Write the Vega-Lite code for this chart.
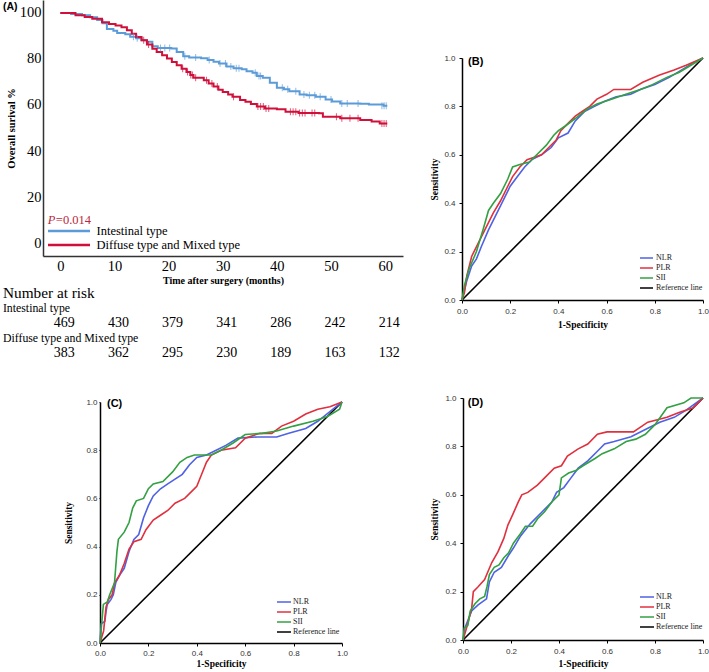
{
"$schema":"https://vega.github.io/schema/vega-lite/v6.json",
"width":709,"height":672,"autosize":{"type":"none"},"padding":0,"background":"white",
"config":{"view":{"stroke":null},"axis":{"grid":false,"labelFlush":false},"legend":{"padding":0,"rowPadding":0,"title":null,"orient":"none"}},
"datasets":{
"km":[
{"group":"Intestinal type","time":0,"surv":100},{"group":"Intestinal type","time":2,"surv":99.6},{"group":"Intestinal type","time":4,"surv":99},{"group":"Intestinal type","time":5.5,"surv":98.2},{"group":"Intestinal type","time":6.8,"surv":97},{"group":"Intestinal type","time":7.8,"surv":95.5},{"group":"Intestinal type","time":8.6,"surv":93},{"group":"Intestinal type","time":9.8,"surv":92.3},{"group":"Intestinal type","time":10.5,"surv":91.3},{"group":"Intestinal type","time":12,"surv":90.8},{"group":"Intestinal type","time":12.9,"surv":89.7},{"group":"Intestinal type","time":14,"surv":89},{"group":"Intestinal type","time":15,"surv":88.2},{"group":"Intestinal type","time":16,"surv":87.5},{"group":"Intestinal type","time":17,"surv":85.5},{"group":"Intestinal type","time":18,"surv":84.8},{"group":"Intestinal type","time":20.5,"surv":84.6},{"group":"Intestinal type","time":21.5,"surv":83},{"group":"Intestinal type","time":22.7,"surv":81.2},{"group":"Intestinal type","time":23.8,"surv":80.6},{"group":"Intestinal type","time":26,"surv":80.3},{"group":"Intestinal type","time":27.2,"surv":79.6},{"group":"Intestinal type","time":28.3,"surv":78.8},{"group":"Intestinal type","time":29.3,"surv":78},{"group":"Intestinal type","time":30.7,"surv":76.7},{"group":"Intestinal type","time":32,"surv":76},{"group":"Intestinal type","time":33.5,"surv":75.5},{"group":"Intestinal type","time":34.4,"surv":74.7},{"group":"Intestinal type","time":35.5,"surv":74},{"group":"Intestinal type","time":36.3,"surv":72.6},{"group":"Intestinal type","time":37.4,"surv":71.8},{"group":"Intestinal type","time":38.7,"surv":69.7},{"group":"Intestinal type","time":40,"surv":67.5},{"group":"Intestinal type","time":41.3,"surv":66.8},{"group":"Intestinal type","time":42.3,"surv":66},{"group":"Intestinal type","time":44.2,"surv":64.6},{"group":"Intestinal type","time":45.5,"surv":64.2},{"group":"Intestinal type","time":47.2,"surv":63.6},{"group":"Intestinal type","time":49,"surv":62.4},{"group":"Intestinal type","time":50.2,"surv":61.5},{"group":"Intestinal type","time":51.7,"surv":60.7},{"group":"Intestinal type","time":55.4,"surv":60.5},{"group":"Intestinal type","time":57,"surv":60.2},{"group":"Intestinal type","time":59.7,"surv":59.7},{"group":"Intestinal type","time":60.4,"surv":59.7},
{"group":"Diffuse type and Mixed type","time":0,"surv":100},{"group":"Diffuse type and Mixed type","time":2.8,"surv":99},{"group":"Diffuse type and Mixed type","time":4.5,"surv":98.3},{"group":"Diffuse type and Mixed type","time":5.9,"surv":97.5},{"group":"Diffuse type and Mixed type","time":7.7,"surv":96},{"group":"Diffuse type and Mixed type","time":9,"surv":95.2},{"group":"Diffuse type and Mixed type","time":10.2,"surv":94.6},{"group":"Diffuse type and Mixed type","time":11.3,"surv":93.8},{"group":"Diffuse type and Mixed type","time":12.3,"surv":92.5},{"group":"Diffuse type and Mixed type","time":13.2,"surv":91},{"group":"Diffuse type and Mixed type","time":14,"surv":89.6},{"group":"Diffuse type and Mixed type","time":15,"surv":88.2},{"group":"Diffuse type and Mixed type","time":16,"surv":86.3},{"group":"Diffuse type and Mixed type","time":17,"surv":84.5},{"group":"Diffuse type and Mixed type","time":17.8,"surv":83},{"group":"Diffuse type and Mixed type","time":18.8,"surv":81.6},{"group":"Diffuse type and Mixed type","time":19.7,"surv":80.2},{"group":"Diffuse type and Mixed type","time":20.6,"surv":78.7},{"group":"Diffuse type and Mixed type","time":21.5,"surv":77.3},{"group":"Diffuse type and Mixed type","time":22.4,"surv":75.8},{"group":"Diffuse type and Mixed type","time":23.3,"surv":74.4},{"group":"Diffuse type and Mixed type","time":24,"surv":73},{"group":"Diffuse type and Mixed type","time":24.6,"surv":71.8},{"group":"Diffuse type and Mixed type","time":26.5,"surv":70.8},{"group":"Diffuse type and Mixed type","time":27.4,"surv":69.4},{"group":"Diffuse type and Mixed type","time":28.3,"surv":68},{"group":"Diffuse type and Mixed type","time":29.2,"surv":66.6},{"group":"Diffuse type and Mixed type","time":30,"surv":65.6},{"group":"Diffuse type and Mixed type","time":31,"surv":64.6},{"group":"Diffuse type and Mixed type","time":31.8,"surv":63.6},{"group":"Diffuse type and Mixed type","time":33.2,"surv":62.2},{"group":"Diffuse type and Mixed type","time":34.2,"surv":61.4},{"group":"Diffuse type and Mixed type","time":35.2,"surv":60.4},{"group":"Diffuse type and Mixed type","time":36.3,"surv":59.3},{"group":"Diffuse type and Mixed type","time":37.8,"surv":58.5},{"group":"Diffuse type and Mixed type","time":40,"surv":58.2},{"group":"Diffuse type and Mixed type","time":41.6,"surv":57.1},{"group":"Diffuse type and Mixed type","time":44,"surv":56.5},{"group":"Diffuse type and Mixed type","time":47.8,"surv":56.4},{"group":"Diffuse type and Mixed type","time":48.5,"surv":54.9},{"group":"Diffuse type and Mixed type","time":51.7,"surv":54.2},{"group":"Diffuse type and Mixed type","time":55.4,"surv":53.5},{"group":"Diffuse type and Mixed type","time":57.5,"surv":52.8},{"group":"Diffuse type and Mixed type","time":59,"surv":52},{"group":"Diffuse type and Mixed type","time":60.4,"surv":52}
],
"censor":[
{"group":"Intestinal type","time":13.5,"surv":89.7},{"group":"Intestinal type","time":14.2,"surv":89},{"group":"Intestinal type","time":18.5,"surv":84.8},{"group":"Intestinal type","time":19.3,"surv":84.8},{"group":"Intestinal type","time":20.2,"surv":84.8},{"group":"Intestinal type","time":23,"surv":81.2},{"group":"Intestinal type","time":25,"surv":80.6},{"group":"Intestinal type","time":27.5,"surv":79.6},{"group":"Intestinal type","time":29.5,"surv":78},{"group":"Intestinal type","time":30.5,"surv":78},{"group":"Intestinal type","time":31.5,"surv":76.7},{"group":"Intestinal type","time":32.5,"surv":76},{"group":"Intestinal type","time":33,"surv":76},{"group":"Intestinal type","time":36,"surv":74},{"group":"Intestinal type","time":36.7,"surv":72.6},{"group":"Intestinal type","time":37,"surv":72.6},{"group":"Intestinal type","time":41,"surv":67.5},{"group":"Intestinal type","time":42,"surv":66.8},{"group":"Intestinal type","time":43.5,"surv":66},{"group":"Intestinal type","time":45,"surv":64.6},{"group":"Intestinal type","time":46,"surv":64.2},{"group":"Intestinal type","time":47,"surv":64.2},{"group":"Intestinal type","time":48,"surv":63.6},{"group":"Intestinal type","time":50,"surv":62.4},{"group":"Intestinal type","time":52,"surv":60.7},{"group":"Intestinal type","time":53,"surv":60.7},{"group":"Intestinal type","time":55,"surv":60.7},{"group":"Intestinal type","time":59.4,"surv":59.7},{"group":"Intestinal type","time":59.8,"surv":59.7},{"group":"Intestinal type","time":60.2,"surv":59.7},
{"group":"Diffuse type and Mixed type","time":15.4,"surv":88.2},{"group":"Diffuse type and Mixed type","time":16.3,"surv":86.3},{"group":"Diffuse type and Mixed type","time":22.6,"surv":75.8},{"group":"Diffuse type and Mixed type","time":23.5,"surv":74.4},{"group":"Diffuse type and Mixed type","time":24.1,"surv":73},{"group":"Diffuse type and Mixed type","time":24.4,"surv":73},{"group":"Diffuse type and Mixed type","time":25,"surv":71.8},{"group":"Diffuse type and Mixed type","time":27,"surv":70.8},{"group":"Diffuse type and Mixed type","time":28,"surv":69.4},{"group":"Diffuse type and Mixed type","time":29,"surv":68},{"group":"Diffuse type and Mixed type","time":32,"surv":63.6},{"group":"Diffuse type and Mixed type","time":36.5,"surv":59.3},{"group":"Diffuse type and Mixed type","time":37,"surv":59.3},{"group":"Diffuse type and Mixed type","time":37.5,"surv":59.3},{"group":"Diffuse type and Mixed type","time":38,"surv":58.5},{"group":"Diffuse type and Mixed type","time":38.5,"surv":58.5},{"group":"Diffuse type and Mixed type","time":42.5,"surv":57.1},{"group":"Diffuse type and Mixed type","time":43,"surv":57.1},{"group":"Diffuse type and Mixed type","time":43.5,"surv":57.1},{"group":"Diffuse type and Mixed type","time":44.2,"surv":56.5},{"group":"Diffuse type and Mixed type","time":44.7,"surv":56.5},{"group":"Diffuse type and Mixed type","time":45.2,"surv":56.5},{"group":"Diffuse type and Mixed type","time":46.5,"surv":56.5},{"group":"Diffuse type and Mixed type","time":47,"surv":56.5},{"group":"Diffuse type and Mixed type","time":51,"surv":54.9},{"group":"Diffuse type and Mixed type","time":52,"surv":54.2},{"group":"Diffuse type and Mixed type","time":53.5,"surv":54.2},{"group":"Diffuse type and Mixed type","time":55,"surv":54.2},{"group":"Diffuse type and Mixed type","time":59.4,"surv":52},{"group":"Diffuse type and Mixed type","time":59.8,"surv":52},{"group":"Diffuse type and Mixed type","time":60.2,"surv":52}
],
"riskHead":[{"line":"Number at risk","label":"Number at risk"}],
"riskLabels":[{"line":"Intestinal type","label":"Intestinal type"},{"line":"Diffuse type and Mixed type","label":"Diffuse type and Mixed type"}],
"riskN":[
{"line":"Intestinal type (at risk)","time":0,"n":469},{"line":"Intestinal type (at risk)","time":10,"n":430},{"line":"Intestinal type (at risk)","time":20,"n":379},{"line":"Intestinal type (at risk)","time":30,"n":341},{"line":"Intestinal type (at risk)","time":40,"n":286},{"line":"Intestinal type (at risk)","time":50,"n":242},{"line":"Intestinal type (at risk)","time":60,"n":214},
{"line":"Diffuse type and Mixed type (at risk)","time":0,"n":383},{"line":"Diffuse type and Mixed type (at risk)","time":10,"n":362},{"line":"Diffuse type and Mixed type (at risk)","time":20,"n":295},{"line":"Diffuse type and Mixed type (at risk)","time":30,"n":230},{"line":"Diffuse type and Mixed type (at risk)","time":40,"n":189},{"line":"Diffuse type and Mixed type (at risk)","time":50,"n":163},{"line":"Diffuse type and Mixed type (at risk)","time":60,"n":132}
],
"rocB":[
{"m":"Reference line","fpr":0,"tpr":0},{"m":"Reference line","fpr":1,"tpr":1},
{"m":"NLR","fpr":0,"tpr":0},{"m":"NLR","fpr":0.02,"tpr":0.08},{"m":"NLR","fpr":0.04,"tpr":0.14},{"m":"NLR","fpr":0.06,"tpr":0.17},{"m":"NLR","fpr":0.08,"tpr":0.22},{"m":"NLR","fpr":0.11,"tpr":0.29},{"m":"NLR","fpr":0.14,"tpr":0.35},{"m":"NLR","fpr":0.17,"tpr":0.41},{"m":"NLR","fpr":0.2,"tpr":0.47},{"m":"NLR","fpr":0.23,"tpr":0.51},{"m":"NLR","fpr":0.26,"tpr":0.55},{"m":"NLR","fpr":0.29,"tpr":0.58},{"m":"NLR","fpr":0.33,"tpr":0.6},{"m":"NLR","fpr":0.37,"tpr":0.63},{"m":"NLR","fpr":0.4,"tpr":0.67},{"m":"NLR","fpr":0.44,"tpr":0.69},{"m":"NLR","fpr":0.47,"tpr":0.74},{"m":"NLR","fpr":0.51,"tpr":0.78},{"m":"NLR","fpr":0.55,"tpr":0.8},{"m":"NLR","fpr":0.59,"tpr":0.82},{"m":"NLR","fpr":0.64,"tpr":0.84},{"m":"NLR","fpr":0.7,"tpr":0.85},{"m":"NLR","fpr":0.74,"tpr":0.87},{"m":"NLR","fpr":0.8,"tpr":0.89},{"m":"NLR","fpr":0.86,"tpr":0.92},{"m":"NLR","fpr":0.91,"tpr":0.95},{"m":"NLR","fpr":0.96,"tpr":0.98},{"m":"NLR","fpr":1,"tpr":1},
{"m":"PLR","fpr":0,"tpr":0},{"m":"PLR","fpr":0.01,"tpr":0.03},{"m":"PLR","fpr":0.02,"tpr":0.1},{"m":"PLR","fpr":0.04,"tpr":0.18},{"m":"PLR","fpr":0.07,"tpr":0.24},{"m":"PLR","fpr":0.1,"tpr":0.3},{"m":"PLR","fpr":0.13,"tpr":0.36},{"m":"PLR","fpr":0.16,"tpr":0.41},{"m":"PLR","fpr":0.19,"tpr":0.47},{"m":"PLR","fpr":0.21,"tpr":0.51},{"m":"PLR","fpr":0.24,"tpr":0.55},{"m":"PLR","fpr":0.27,"tpr":0.58},{"m":"PLR","fpr":0.3,"tpr":0.59},{"m":"PLR","fpr":0.33,"tpr":0.6},{"m":"PLR","fpr":0.36,"tpr":0.63},{"m":"PLR","fpr":0.39,"tpr":0.66},{"m":"PLR","fpr":0.41,"tpr":0.7},{"m":"PLR","fpr":0.44,"tpr":0.73},{"m":"PLR","fpr":0.47,"tpr":0.76},{"m":"PLR","fpr":0.5,"tpr":0.78},{"m":"PLR","fpr":0.53,"tpr":0.8},{"m":"PLR","fpr":0.56,"tpr":0.83},{"m":"PLR","fpr":0.6,"tpr":0.85},{"m":"PLR","fpr":0.63,"tpr":0.87},{"m":"PLR","fpr":0.7,"tpr":0.87},{"m":"PLR","fpr":0.75,"tpr":0.9},{"m":"PLR","fpr":0.82,"tpr":0.93},{"m":"PLR","fpr":0.88,"tpr":0.95},{"m":"PLR","fpr":0.93,"tpr":0.97},{"m":"PLR","fpr":1,"tpr":1},
{"m":"SII","fpr":0,"tpr":0},{"m":"SII","fpr":0.01,"tpr":0.06},{"m":"SII","fpr":0.03,"tpr":0.13},{"m":"SII","fpr":0.06,"tpr":0.2},{"m":"SII","fpr":0.09,"tpr":0.3},{"m":"SII","fpr":0.11,"tpr":0.37},{"m":"SII","fpr":0.13,"tpr":0.4},{"m":"SII","fpr":0.16,"tpr":0.44},{"m":"SII","fpr":0.19,"tpr":0.5},{"m":"SII","fpr":0.21,"tpr":0.55},{"m":"SII","fpr":0.24,"tpr":0.56},{"m":"SII","fpr":0.28,"tpr":0.57},{"m":"SII","fpr":0.31,"tpr":0.6},{"m":"SII","fpr":0.35,"tpr":0.64},{"m":"SII","fpr":0.38,"tpr":0.68},{"m":"SII","fpr":0.4,"tpr":0.7},{"m":"SII","fpr":0.43,"tpr":0.72},{"m":"SII","fpr":0.47,"tpr":0.75},{"m":"SII","fpr":0.52,"tpr":0.79},{"m":"SII","fpr":0.56,"tpr":0.81},{"m":"SII","fpr":0.62,"tpr":0.83},{"m":"SII","fpr":0.68,"tpr":0.85},{"m":"SII","fpr":0.74,"tpr":0.87},{"m":"SII","fpr":0.79,"tpr":0.89},{"m":"SII","fpr":0.85,"tpr":0.92},{"m":"SII","fpr":0.9,"tpr":0.94},{"m":"SII","fpr":0.95,"tpr":0.97},{"m":"SII","fpr":1,"tpr":1}
],
"rocC":[
{"m":"Reference line","fpr":0,"tpr":0},{"m":"Reference line","fpr":1,"tpr":1},
{"m":"NLR","fpr":0,"tpr":0},{"m":"NLR","fpr":0.005,"tpr":0.08},{"m":"NLR","fpr":0.02,"tpr":0.09},{"m":"NLR","fpr":0.025,"tpr":0.13},{"m":"NLR","fpr":0.03,"tpr":0.16},{"m":"NLR","fpr":0.045,"tpr":0.18},{"m":"NLR","fpr":0.055,"tpr":0.2},{"m":"NLR","fpr":0.065,"tpr":0.25},{"m":"NLR","fpr":0.08,"tpr":0.28},{"m":"NLR","fpr":0.1,"tpr":0.31},{"m":"NLR","fpr":0.12,"tpr":0.38},{"m":"NLR","fpr":0.14,"tpr":0.43},{"m":"NLR","fpr":0.16,"tpr":0.45},{"m":"NLR","fpr":0.18,"tpr":0.52},{"m":"NLR","fpr":0.2,"tpr":0.57},{"m":"NLR","fpr":0.22,"tpr":0.61},{"m":"NLR","fpr":0.25,"tpr":0.64},{"m":"NLR","fpr":0.28,"tpr":0.66},{"m":"NLR","fpr":0.31,"tpr":0.68},{"m":"NLR","fpr":0.34,"tpr":0.7},{"m":"NLR","fpr":0.37,"tpr":0.74},{"m":"NLR","fpr":0.4,"tpr":0.77},{"m":"NLR","fpr":0.44,"tpr":0.78},{"m":"NLR","fpr":0.48,"tpr":0.8},{"m":"NLR","fpr":0.52,"tpr":0.82},{"m":"NLR","fpr":0.57,"tpr":0.85},{"m":"NLR","fpr":0.65,"tpr":0.855},{"m":"NLR","fpr":0.73,"tpr":0.855},{"m":"NLR","fpr":0.78,"tpr":0.87},{"m":"NLR","fpr":0.85,"tpr":0.89},{"m":"NLR","fpr":0.9,"tpr":0.92},{"m":"NLR","fpr":0.95,"tpr":0.96},{"m":"NLR","fpr":1,"tpr":1},
{"m":"PLR","fpr":0,"tpr":0},{"m":"PLR","fpr":0.015,"tpr":0.05},{"m":"PLR","fpr":0.025,"tpr":0.15},{"m":"PLR","fpr":0.035,"tpr":0.18},{"m":"PLR","fpr":0.05,"tpr":0.2},{"m":"PLR","fpr":0.06,"tpr":0.25},{"m":"PLR","fpr":0.08,"tpr":0.28},{"m":"PLR","fpr":0.1,"tpr":0.33},{"m":"PLR","fpr":0.12,"tpr":0.39},{"m":"PLR","fpr":0.14,"tpr":0.42},{"m":"PLR","fpr":0.17,"tpr":0.43},{"m":"PLR","fpr":0.19,"tpr":0.47},{"m":"PLR","fpr":0.22,"tpr":0.51},{"m":"PLR","fpr":0.25,"tpr":0.53},{"m":"PLR","fpr":0.28,"tpr":0.55},{"m":"PLR","fpr":0.31,"tpr":0.58},{"m":"PLR","fpr":0.35,"tpr":0.6},{"m":"PLR","fpr":0.38,"tpr":0.63},{"m":"PLR","fpr":0.4,"tpr":0.65},{"m":"PLR","fpr":0.42,"tpr":0.7},{"m":"PLR","fpr":0.44,"tpr":0.75},{"m":"PLR","fpr":0.46,"tpr":0.78},{"m":"PLR","fpr":0.5,"tpr":0.8},{"m":"PLR","fpr":0.56,"tpr":0.81},{"m":"PLR","fpr":0.6,"tpr":0.85},{"m":"PLR","fpr":0.66,"tpr":0.87},{"m":"PLR","fpr":0.71,"tpr":0.87},{"m":"PLR","fpr":0.75,"tpr":0.9},{"m":"PLR","fpr":0.8,"tpr":0.92},{"m":"PLR","fpr":0.85,"tpr":0.95},{"m":"PLR","fpr":0.9,"tpr":0.97},{"m":"PLR","fpr":0.95,"tpr":0.98},{"m":"PLR","fpr":1,"tpr":1},
{"m":"SII","fpr":0,"tpr":0},{"m":"SII","fpr":0.014,"tpr":0.16},{"m":"SII","fpr":0.03,"tpr":0.17},{"m":"SII","fpr":0.04,"tpr":0.2},{"m":"SII","fpr":0.06,"tpr":0.25},{"m":"SII","fpr":0.07,"tpr":0.38},{"m":"SII","fpr":0.076,"tpr":0.43},{"m":"SII","fpr":0.1,"tpr":0.46},{"m":"SII","fpr":0.12,"tpr":0.5},{"m":"SII","fpr":0.135,"tpr":0.56},{"m":"SII","fpr":0.15,"tpr":0.59},{"m":"SII","fpr":0.18,"tpr":0.6},{"m":"SII","fpr":0.2,"tpr":0.64},{"m":"SII","fpr":0.22,"tpr":0.66},{"m":"SII","fpr":0.26,"tpr":0.67},{"m":"SII","fpr":0.3,"tpr":0.71},{"m":"SII","fpr":0.33,"tpr":0.75},{"m":"SII","fpr":0.36,"tpr":0.77},{"m":"SII","fpr":0.39,"tpr":0.78},{"m":"SII","fpr":0.46,"tpr":0.78},{"m":"SII","fpr":0.5,"tpr":0.8},{"m":"SII","fpr":0.55,"tpr":0.83},{"m":"SII","fpr":0.6,"tpr":0.865},{"m":"SII","fpr":0.67,"tpr":0.87},{"m":"SII","fpr":0.73,"tpr":0.88},{"m":"SII","fpr":0.8,"tpr":0.9},{"m":"SII","fpr":0.88,"tpr":0.92},{"m":"SII","fpr":0.94,"tpr":0.94},{"m":"SII","fpr":0.99,"tpr":0.97},{"m":"SII","fpr":1,"tpr":1}
],
"rocD":[
{"m":"Reference line","fpr":0,"tpr":0},{"m":"Reference line","fpr":1,"tpr":1},
{"m":"NLR","fpr":0,"tpr":0},{"m":"NLR","fpr":0.008,"tpr":0.05},{"m":"NLR","fpr":0.02,"tpr":0.08},{"m":"NLR","fpr":0.036,"tpr":0.12},{"m":"NLR","fpr":0.063,"tpr":0.145},{"m":"NLR","fpr":0.098,"tpr":0.17},{"m":"NLR","fpr":0.11,"tpr":0.24},{"m":"NLR","fpr":0.13,"tpr":0.28},{"m":"NLR","fpr":0.16,"tpr":0.3},{"m":"NLR","fpr":0.19,"tpr":0.35},{"m":"NLR","fpr":0.21,"tpr":0.38},{"m":"NLR","fpr":0.24,"tpr":0.43},{"m":"NLR","fpr":0.28,"tpr":0.48},{"m":"NLR","fpr":0.33,"tpr":0.53},{"m":"NLR","fpr":0.37,"tpr":0.57},{"m":"NLR","fpr":0.39,"tpr":0.61},{"m":"NLR","fpr":0.42,"tpr":0.63},{"m":"NLR","fpr":0.45,"tpr":0.67},{"m":"NLR","fpr":0.48,"tpr":0.71},{"m":"NLR","fpr":0.52,"tpr":0.74},{"m":"NLR","fpr":0.56,"tpr":0.78},{"m":"NLR","fpr":0.59,"tpr":0.81},{"m":"NLR","fpr":0.63,"tpr":0.82},{"m":"NLR","fpr":0.7,"tpr":0.84},{"m":"NLR","fpr":0.77,"tpr":0.875},{"m":"NLR","fpr":0.82,"tpr":0.9},{"m":"NLR","fpr":0.88,"tpr":0.92},{"m":"NLR","fpr":0.93,"tpr":0.95},{"m":"NLR","fpr":1,"tpr":1},
{"m":"PLR","fpr":0,"tpr":0},{"m":"PLR","fpr":0.015,"tpr":0.05},{"m":"PLR","fpr":0.036,"tpr":0.13},{"m":"PLR","fpr":0.043,"tpr":0.2},{"m":"PLR","fpr":0.063,"tpr":0.22},{"m":"PLR","fpr":0.09,"tpr":0.25},{"m":"PLR","fpr":0.12,"tpr":0.32},{"m":"PLR","fpr":0.146,"tpr":0.365},{"m":"PLR","fpr":0.17,"tpr":0.42},{"m":"PLR","fpr":0.187,"tpr":0.475},{"m":"PLR","fpr":0.208,"tpr":0.52},{"m":"PLR","fpr":0.23,"tpr":0.57},{"m":"PLR","fpr":0.245,"tpr":0.6},{"m":"PLR","fpr":0.27,"tpr":0.61},{"m":"PLR","fpr":0.31,"tpr":0.64},{"m":"PLR","fpr":0.34,"tpr":0.67},{"m":"PLR","fpr":0.38,"tpr":0.71},{"m":"PLR","fpr":0.41,"tpr":0.72},{"m":"PLR","fpr":0.435,"tpr":0.76},{"m":"PLR","fpr":0.48,"tpr":0.79},{"m":"PLR","fpr":0.52,"tpr":0.81},{"m":"PLR","fpr":0.56,"tpr":0.85},{"m":"PLR","fpr":0.6,"tpr":0.86},{"m":"PLR","fpr":0.71,"tpr":0.86},{"m":"PLR","fpr":0.77,"tpr":0.9},{"m":"PLR","fpr":0.85,"tpr":0.92},{"m":"PLR","fpr":0.9,"tpr":0.94},{"m":"PLR","fpr":0.96,"tpr":0.96},{"m":"PLR","fpr":1,"tpr":1},
{"m":"SII","fpr":0,"tpr":0},{"m":"SII","fpr":0.005,"tpr":0.05},{"m":"SII","fpr":0.02,"tpr":0.06},{"m":"SII","fpr":0.03,"tpr":0.12},{"m":"SII","fpr":0.05,"tpr":0.15},{"m":"SII","fpr":0.07,"tpr":0.17},{"m":"SII","fpr":0.09,"tpr":0.18},{"m":"SII","fpr":0.1,"tpr":0.22},{"m":"SII","fpr":0.11,"tpr":0.27},{"m":"SII","fpr":0.13,"tpr":0.3},{"m":"SII","fpr":0.15,"tpr":0.31},{"m":"SII","fpr":0.17,"tpr":0.34},{"m":"SII","fpr":0.19,"tpr":0.36},{"m":"SII","fpr":0.21,"tpr":0.4},{"m":"SII","fpr":0.24,"tpr":0.44},{"m":"SII","fpr":0.26,"tpr":0.47},{"m":"SII","fpr":0.29,"tpr":0.47},{"m":"SII","fpr":0.31,"tpr":0.5},{"m":"SII","fpr":0.34,"tpr":0.53},{"m":"SII","fpr":0.37,"tpr":0.57},{"m":"SII","fpr":0.4,"tpr":0.6},{"m":"SII","fpr":0.41,"tpr":0.67},{"m":"SII","fpr":0.44,"tpr":0.69},{"m":"SII","fpr":0.47,"tpr":0.7},{"m":"SII","fpr":0.5,"tpr":0.72},{"m":"SII","fpr":0.55,"tpr":0.75},{"m":"SII","fpr":0.58,"tpr":0.77},{"m":"SII","fpr":0.63,"tpr":0.79},{"m":"SII","fpr":0.68,"tpr":0.82},{"m":"SII","fpr":0.72,"tpr":0.83},{"m":"SII","fpr":0.76,"tpr":0.85},{"m":"SII","fpr":0.8,"tpr":0.89},{"m":"SII","fpr":0.85,"tpr":0.96},{"m":"SII","fpr":0.92,"tpr":0.98},{"m":"SII","fpr":0.95,"tpr":1},{"m":"SII","fpr":1,"tpr":1}
]
},
"layer":[
{"data":{"name":"km"},"mark":{"type":"line","interpolate":"step-after","strokeWidth":2},
 "encoding":{
  "x":{"field":"time","type":"quantitative","scale":{"domain":[-3.2,63.3],"range":[43,403],"nice":false,"zero":false},
       "axis":{"orient":"bottom","offset":-416,"values":[0,10,20,30,40,50,60],"title":"Time after surgery (months)","titleFont":"Liberation Serif","titleFontSize":10,"titleFontWeight":"bold","titleColor":"#000","titlePadding":3,"labelFont":"Liberation Serif","labelFontSize":14.5,"labelColor":"#000","labelPadding":3,"ticks":false,"domainColor":"#333","domainWidth":1.5}},
  "y":{"field":"surv","type":"quantitative","scale":{"domain":[-5.65,105.65],"range":[256,0],"nice":false,"zero":false},
       "axis":{"orient":"left","offset":-43,"values":[0,20,40,60,80,100],"title":"Overall surival %","titleFont":"Liberation Serif","titleFontSize":10.5,"titleFontWeight":"bold","titleColor":"#000","titlePadding":3,"labelFont":"Liberation Serif","labelFontSize":14.5,"labelColor":"#000","labelPadding":2,"ticks":false,"domainColor":"#333","domainWidth":1.5}},
  "color":{"field":"group","type":"nominal","scale":{"domain":["Intestinal type","Diffuse type and Mixed type"],"range":["#5b9bd8","#d0103a"]},
       "legend":{"orient":"none","legendX":46.5,"legendY":224,"symbolType":"stroke","symbolSize":1764,"symbolStrokeWidth":2.5,"clipHeight":14,"labelFont":"Liberation Serif","labelFontSize":12.5,"labelColor":"#000","labelOffset":5,"labelLimit":300}}
 }},
{"data":{"name":"censor"},"mark":{"type":"tick","orient":"vertical","size":7,"thickness":1},
 "encoding":{
  "x":{"field":"time","type":"quantitative","scale":{"domain":[-3.2,63.3],"range":[43,403],"nice":false,"zero":false},"axis":null},
  "y":{"field":"surv","type":"quantitative","scale":{"domain":[-5.65,105.65],"range":[256,0],"nice":false,"zero":false},"axis":null},
  "color":{"field":"group","type":"nominal","scale":{"domain":["Intestinal type","Diffuse type and Mixed type"],"range":["#5b9bd8","#d0103a"]},"legend":null}}},
{"data":{"values":[{"p":"P","v":"=0.014"}]},"mark":{"type":"text","align":"left","baseline":"middle","font":"Liberation Serif","fontSize":12.5,"fontStyle":"italic","color":"#b8283c"},
 "encoding":{
  "x":{"datum":-2.3,"type":"quantitative","scale":{"domain":[-3.2,63.3],"range":[43,403],"nice":false,"zero":false},"axis":null},
  "y":{"datum":10,"type":"quantitative","scale":{"domain":[-5.65,105.65],"range":[256,0],"nice":false,"zero":false},"axis":null},
  "text":{"field":"p"}}},
{"data":{"values":[{"p":"P","v":"=0.014"}]},"mark":{"type":"text","align":"left","baseline":"middle","font":"Liberation Serif","fontSize":12.5,"dx":8,"color":"#b8283c"},
 "encoding":{
  "x":{"datum":-2.3,"type":"quantitative","scale":{"domain":[-3.2,63.3],"range":[43,403],"nice":false,"zero":false},"axis":null},
  "y":{"datum":10,"type":"quantitative","scale":{"domain":[-5.65,105.65],"range":[256,0],"nice":false,"zero":false},"axis":null},
  "text":{"field":"v"}}},
{"data":{"values":[{"label":"(A)"}]},"mark":{"type":"text","align":"left","baseline":"middle","font":"Liberation Sans","fontSize":10.5,"fontWeight":"bold","color":"#000"},
 "encoding":{
  "x":{"datum":-10.6,"type":"quantitative","scale":{"domain":[-3.2,63.3],"range":[43,403],"nice":false,"zero":false},"axis":null},
  "y":{"datum":102.5,"type":"quantitative","scale":{"domain":[-5.65,105.65],"range":[256,0],"nice":false,"zero":false},"axis":null},
  "text":{"field":"label"}}},
{"data":{"name":"riskHead"},"mark":{"type":"text","align":"left","baseline":"middle","font":"Liberation Serif","fontSize":15.3,"color":"#000"},
 "encoding":{
  "x":{"datum":-10.6,"type":"quantitative","scale":{"domain":[-3.2,63.3],"range":[43,403],"nice":false,"zero":false},"axis":null},
  "y":{"field":"line","type":"nominal","scale":{"type":"point","domain":["Number at risk","Intestinal type","Intestinal type (at risk)","Diffuse type and Mixed type","Diffuse type and Mixed type (at risk)"],"range":[293,353],"padding":0},"axis":null},
  "text":{"field":"label"}}},
{"data":{"name":"riskLabels"},"mark":{"type":"text","align":"left","baseline":"middle","font":"Liberation Serif","fontSize":11.8,"color":"#000"},
 "encoding":{
  "x":{"datum":-10.6,"type":"quantitative","scale":{"domain":[-3.2,63.3],"range":[43,403],"nice":false,"zero":false},"axis":null},
  "y":{"field":"line","type":"nominal","scale":{"type":"point","domain":["Number at risk","Intestinal type","Intestinal type (at risk)","Diffuse type and Mixed type","Diffuse type and Mixed type (at risk)"],"range":[293,353],"padding":0},"axis":null},
  "text":{"field":"label"}}},
{"data":{"name":"riskN"},"mark":{"type":"text","align":"center","baseline":"middle","dx":4,"font":"Liberation Serif","fontSize":14,"color":"#000"},
 "encoding":{
  "x":{"field":"time","type":"quantitative","scale":{"domain":[-3.2,63.3],"range":[43,403],"nice":false,"zero":false},"axis":null},
  "y":{"field":"line","type":"nominal","scale":{"type":"point","domain":["Number at risk","Intestinal type","Intestinal type (at risk)","Diffuse type and Mixed type","Diffuse type and Mixed type (at risk)"],"range":[293,353],"padding":0},"axis":null},
  "text":{"field":"n"}}},
{"data":{"name":"rocB"},"mark":{"type":"line","strokeWidth":1.6},
 "encoding":{
  "x":{"field":"fpr","type":"quantitative","scale":{"domain":[0,1],"range":[462,703],"nice":false,"zero":false},
    "axis":{"orient":"bottom","offset":-372,"values":[0,0.2,0.4,0.6,0.8,1],"format":".1f","title":"1-Specificity","titleFont":"Liberation Serif","titleFontSize":9.5,"titleFontWeight":"bold","titleColor":"#000","titlePadding":4,"labelFont":"Liberation Sans","labelFontSize":8,"labelColor":"#333","labelPadding":4,"tickSize":3,"tickColor":"#000","domainColor":"#000","domainWidth":1.5}},
  "y":{"field":"tpr","type":"quantitative","scale":{"domain":[0,1],"range":[300,58],"nice":false,"zero":false},
    "axis":{"orient":"left","offset":-462,"values":[0,0.2,0.4,0.6,0.8,1],"format":".1f","title":"Sensitivity","titleFont":"Liberation Serif","titleFontSize":9.5,"titleFontWeight":"bold","titleColor":"#000","titlePadding":4,"labelFont":"Liberation Sans","labelFontSize":8,"labelColor":"#333","labelPadding":4,"tickSize":3,"tickColor":"#000","domainColor":"#000","domainWidth":1.5}},
  "color":{"field":"m","type":"nominal","scale":{"domain":["NLR","PLR","SII","Reference line"],"range":["#4f62e3","#e0303e","#33a043","#000000"]},
    "legend":{"orient":"none","legendX":639,"legendY":253,"symbolType":"stroke","symbolSize":169,"symbolStrokeWidth":1.5,"clipHeight":10,"labelFont":"Liberation Serif","labelFontSize":8,"labelColor":"#222","labelOffset":2}}
 }},
{"data":{"values":[{"label":"(B)"}]},"mark":{"type":"text","align":"left","baseline":"middle","font":"Liberation Sans","fontSize":11,"fontWeight":"bold","color":"#000"},
 "encoding":{
  "x":{"datum":0.025,"type":"quantitative","scale":{"domain":[0,1],"range":[462,703],"nice":false,"zero":false},"axis":null},
  "y":{"datum":0.985,"type":"quantitative","scale":{"domain":[0,1],"range":[300,58],"nice":false,"zero":false},"axis":null},
  "text":{"field":"label"}}},
{"data":{"name":"rocC"},"mark":{"type":"line","strokeWidth":1.6},
 "encoding":{
  "x":{"field":"fpr","type":"quantitative","scale":{"domain":[0,1],"range":[100,342],"nice":false,"zero":false},
    "axis":{"orient":"bottom","offset":-29,"values":[0,0.2,0.4,0.6,0.8,1],"format":".1f","title":"1-Specificity","titleFont":"Liberation Serif","titleFontSize":9.5,"titleFontWeight":"bold","titleColor":"#000","titlePadding":1,"labelFont":"Liberation Sans","labelFontSize":8,"labelColor":"#333","labelPadding":3,"tickSize":3,"tickColor":"#000","domainColor":"#000","domainWidth":1.5}},
  "y":{"field":"tpr","type":"quantitative","scale":{"domain":[0,1],"range":[643,402],"nice":false,"zero":false},
    "axis":{"orient":"left","offset":-100,"values":[0,0.2,0.4,0.6,0.8,1],"format":".1f","title":"Sensitivity","titleFont":"Liberation Serif","titleFontSize":9.5,"titleFontWeight":"bold","titleColor":"#000","titlePadding":12,"labelFont":"Liberation Sans","labelFontSize":8,"labelColor":"#333","labelPadding":2,"tickSize":1,"tickColor":"#000","domainColor":"#000","domainWidth":1.5}},
  "color":{"field":"m","type":"nominal","scale":{"domain":["NLR","PLR","SII","Reference line"],"range":["#4f62e3","#e0303e","#33a043","#000000"]},
    "legend":{"orient":"none","legendX":276,"legendY":597,"symbolType":"stroke","symbolSize":196,"symbolStrokeWidth":1.5,"clipHeight":9.8,"labelFont":"Liberation Serif","labelFontSize":8,"labelColor":"#222","labelOffset":1}}
 }},
{"data":{"values":[{"label":"(C)"}]},"mark":{"type":"text","align":"left","baseline":"middle","font":"Liberation Sans","fontSize":11,"fontWeight":"bold","color":"#000"},
 "encoding":{
  "x":{"datum":0.029,"type":"quantitative","scale":{"domain":[0,1],"range":[100,342],"nice":false,"zero":false},"axis":null},
  "y":{"datum":0.99,"type":"quantitative","scale":{"domain":[0,1],"range":[643,402],"nice":false,"zero":false},"axis":null},
  "text":{"field":"label"}}},
{"data":{"name":"rocD"},"mark":{"type":"line","strokeWidth":1.6},
 "encoding":{
  "x":{"field":"fpr","type":"quantitative","scale":{"domain":[0,1],"range":[463,703],"nice":false,"zero":false},
    "axis":{"orient":"bottom","offset":-32,"values":[0,0.2,0.4,0.6,0.8,1],"format":".1f","title":"1-Specificity","titleFont":"Liberation Serif","titleFontSize":9.5,"titleFontWeight":"bold","titleColor":"#000","titlePadding":3,"labelFont":"Liberation Sans","labelFontSize":8,"labelColor":"#333","labelPadding":4,"tickSize":3,"tickColor":"#000","domainColor":"#000","domainWidth":1.5}},
  "y":{"field":"tpr","type":"quantitative","scale":{"domain":[0,1],"range":[640,398],"nice":false,"zero":false},
    "axis":{"orient":"left","offset":-463,"values":[0,0.2,0.4,0.6,0.8,1],"format":".1f","title":"Sensitivity","titleFont":"Liberation Serif","titleFontSize":9.5,"titleFontWeight":"bold","titleColor":"#000","titlePadding":5,"labelFont":"Liberation Sans","labelFontSize":8,"labelColor":"#333","labelPadding":4,"tickSize":3,"tickColor":"#000","domainColor":"#000","domainWidth":1.5}},
  "color":{"field":"m","type":"nominal","scale":{"domain":["NLR","PLR","SII","Reference line"],"range":["#4f62e3","#e0303e","#33a043","#000000"]},
    "legend":{"orient":"none","legendX":639,"legendY":592,"symbolType":"stroke","symbolSize":196,"symbolStrokeWidth":1.5,"clipHeight":10,"labelFont":"Liberation Serif","labelFontSize":8,"labelColor":"#222","labelOffset":1}}
 }},
{"data":{"values":[{"label":"(D)"}]},"mark":{"type":"text","align":"left","baseline":"middle","font":"Liberation Sans","fontSize":11,"fontWeight":"bold","color":"#000"},
 "encoding":{
  "x":{"datum":0.02,"type":"quantitative","scale":{"domain":[0,1],"range":[463,703],"nice":false,"zero":false},"axis":null},
  "y":{"datum":0.98,"type":"quantitative","scale":{"domain":[0,1],"range":[640,398],"nice":false,"zero":false},"axis":null},
  "text":{"field":"label"}}}
],
"resolve":{"scale":{"x":"independent","y":"independent","color":"independent"}}
}
